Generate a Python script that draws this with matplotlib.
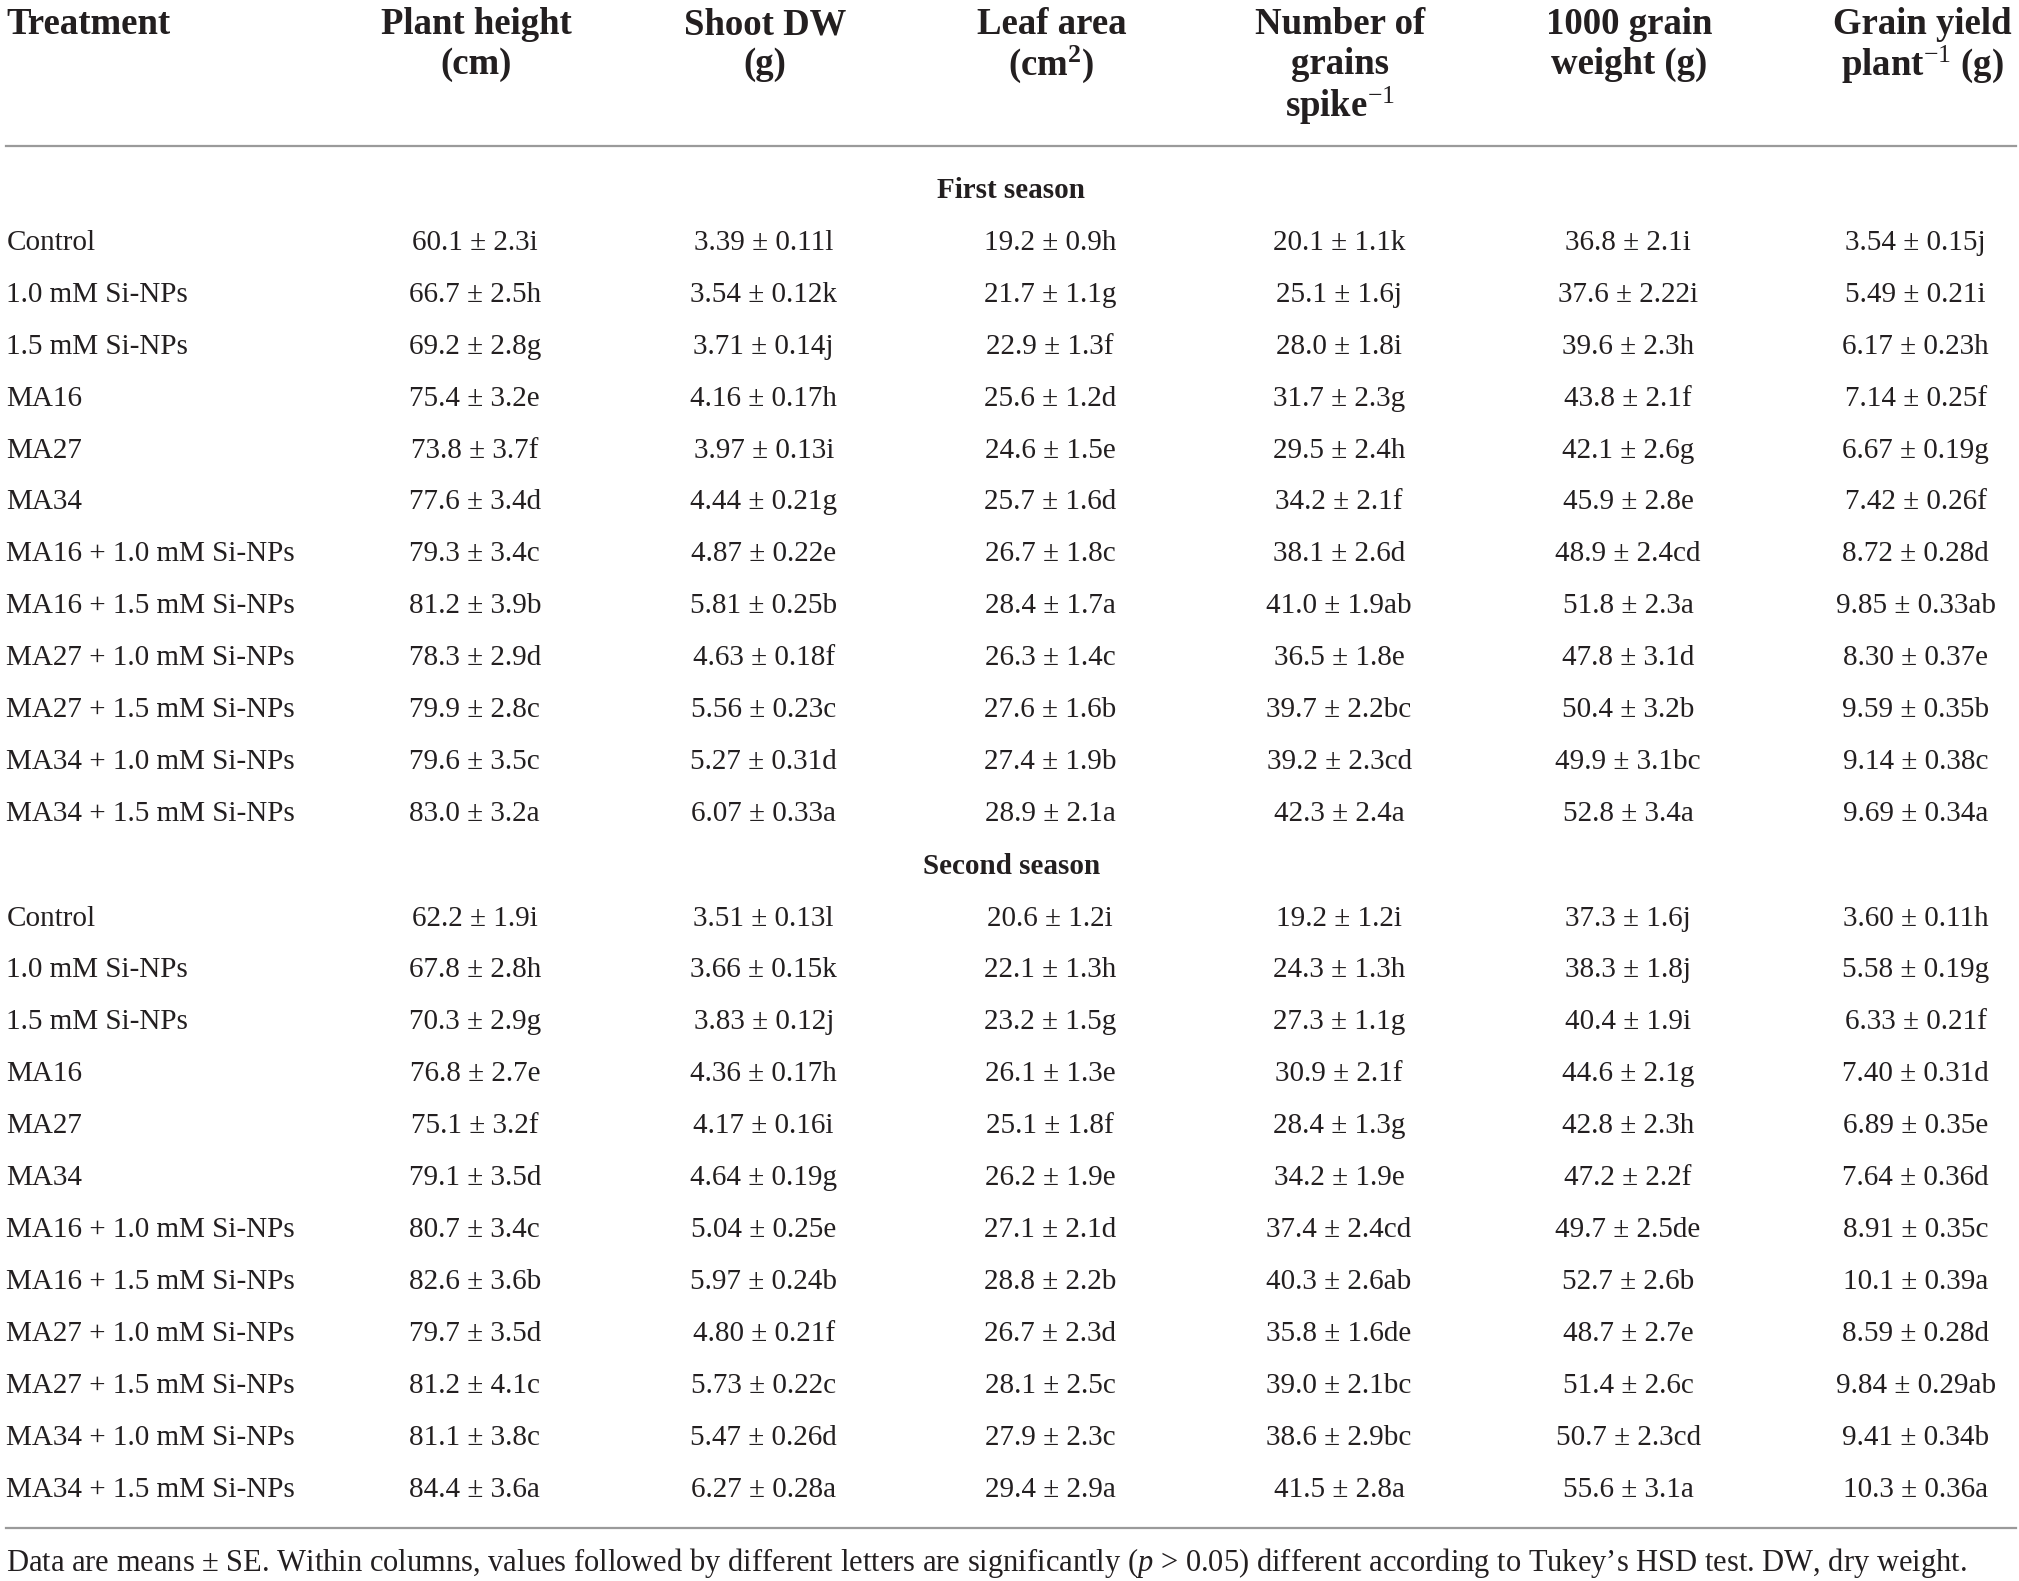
import matplotlib.pyplot as plt

plt.rcParams['font.family'] = ['Liberation Serif', 'DejaVu Serif']
plt.rcParams['mathtext.fontset'] = 'custom'
plt.rcParams['mathtext.rm'] = 'Liberation Serif'
plt.rcParams['mathtext.it'] = 'Liberation Serif:italic'
plt.rcParams['mathtext.bf'] = 'Liberation Serif:bold'

# column headers, one list of lines per column
headers = [
    ["Treatment"],
    ["Plant height", "(cm)"],
    ["Shoot DW", "(g)"],
    ["Leaf area", r"(cm$^{\mathbf{2}}$)"],
    ["Number of", "grains", r"spike$^{-1}$"],
    ["1000 grain", "weight (g)"],
    ["Grain yield", r"plant$^{-1}$ (g)"],
]

treatments = [
    "Control", "1.0 mM Si-NPs", "1.5 mM Si-NPs", "MA16", "MA27", "MA34",
    "MA16 + 1.0 mM Si-NPs", "MA16 + 1.5 mM Si-NPs", "MA27 + 1.0 mM Si-NPs",
    "MA27 + 1.5 mM Si-NPs", "MA34 + 1.0 mM Si-NPs", "MA34 + 1.5 mM Si-NPs",
]

seasons = ["First season", "Second season"]

# first season
height_s1 = ["60.1 ± 2.3i", "66.7 ± 2.5h", "69.2 ± 2.8g", "75.4 ± 3.2e", "73.8 ± 3.7f", "77.6 ± 3.4d",
             "79.3 ± 3.4c", "81.2 ± 3.9b", "78.3 ± 2.9d", "79.9 ± 2.8c", "79.6 ± 3.5c", "83.0 ± 3.2a"]
shoot_s1 = ["3.39 ± 0.11l", "3.54 ± 0.12k", "3.71 ± 0.14j", "4.16 ± 0.17h", "3.97 ± 0.13i", "4.44 ± 0.21g",
            "4.87 ± 0.22e", "5.81 ± 0.25b", "4.63 ± 0.18f", "5.56 ± 0.23c", "5.27 ± 0.31d", "6.07 ± 0.33a"]
leaf_s1 = ["19.2 ± 0.9h", "21.7 ± 1.1g", "22.9 ± 1.3f", "25.6 ± 1.2d", "24.6 ± 1.5e", "25.7 ± 1.6d",
           "26.7 ± 1.8c", "28.4 ± 1.7a", "26.3 ± 1.4c", "27.6 ± 1.6b", "27.4 ± 1.9b", "28.9 ± 2.1a"]
grains_s1 = ["20.1 ± 1.1k", "25.1 ± 1.6j", "28.0 ± 1.8i", "31.7 ± 2.3g", "29.5 ± 2.4h", "34.2 ± 2.1f",
             "38.1 ± 2.6d", "41.0 ± 1.9ab", "36.5 ± 1.8e", "39.7 ± 2.2bc", "39.2 ± 2.3cd", "42.3 ± 2.4a"]
tgw_s1 = ["36.8 ± 2.1i", "37.6 ± 2.22i", "39.6 ± 2.3h", "43.8 ± 2.1f", "42.1 ± 2.6g", "45.9 ± 2.8e",
          "48.9 ± 2.4cd", "51.8 ± 2.3a", "47.8 ± 3.1d", "50.4 ± 3.2b", "49.9 ± 3.1bc", "52.8 ± 3.4a"]
yield_s1 = ["3.54 ± 0.15j", "5.49 ± 0.21i", "6.17 ± 0.23h", "7.14 ± 0.25f", "6.67 ± 0.19g", "7.42 ± 0.26f",
            "8.72 ± 0.28d", "9.85 ± 0.33ab", "8.30 ± 0.37e", "9.59 ± 0.35b", "9.14 ± 0.38c", "9.69 ± 0.34a"]

# second season
height_s2 = ["62.2 ± 1.9i", "67.8 ± 2.8h", "70.3 ± 2.9g", "76.8 ± 2.7e", "75.1 ± 3.2f", "79.1 ± 3.5d",
             "80.7 ± 3.4c", "82.6 ± 3.6b", "79.7 ± 3.5d", "81.2 ± 4.1c", "81.1 ± 3.8c", "84.4 ± 3.6a"]
shoot_s2 = ["3.51 ± 0.13l", "3.66 ± 0.15k", "3.83 ± 0.12j", "4.36 ± 0.17h", "4.17 ± 0.16i", "4.64 ± 0.19g",
            "5.04 ± 0.25e", "5.97 ± 0.24b", "4.80 ± 0.21f", "5.73 ± 0.22c", "5.47 ± 0.26d", "6.27 ± 0.28a"]
leaf_s2 = ["20.6 ± 1.2i", "22.1 ± 1.3h", "23.2 ± 1.5g", "26.1 ± 1.3e", "25.1 ± 1.8f", "26.2 ± 1.9e",
           "27.1 ± 2.1d", "28.8 ± 2.2b", "26.7 ± 2.3d", "28.1 ± 2.5c", "27.9 ± 2.3c", "29.4 ± 2.9a"]
grains_s2 = ["19.2 ± 1.2i", "24.3 ± 1.3h", "27.3 ± 1.1g", "30.9 ± 2.1f", "28.4 ± 1.3g", "34.2 ± 1.9e",
             "37.4 ± 2.4cd", "40.3 ± 2.6ab", "35.8 ± 1.6de", "39.0 ± 2.1bc", "38.6 ± 2.9bc", "41.5 ± 2.8a"]
tgw_s2 = ["37.3 ± 1.6j", "38.3 ± 1.8j", "40.4 ± 1.9i", "44.6 ± 2.1g", "42.8 ± 2.3h", "47.2 ± 2.2f",
          "49.7 ± 2.5de", "52.7 ± 2.6b", "48.7 ± 2.7e", "51.4 ± 2.6c", "50.7 ± 2.3cd", "55.6 ± 3.1a"]
yield_s2 = ["3.60 ± 0.11h", "5.58 ± 0.19g", "6.33 ± 0.21f", "7.40 ± 0.31d", "6.89 ± 0.35e", "7.64 ± 0.36d",
            "8.91 ± 0.35c", "10.1 ± 0.39a", "8.59 ± 0.28d", "9.84 ± 0.29ab", "9.41 ± 0.34b", "10.3 ± 0.36a"]

season_cols = [
    [height_s1, shoot_s1, leaf_s1, grains_s1, tgw_s1, yield_s1],
    [height_s2, shoot_s2, leaf_s2, grains_s2, tgw_s2, yield_s2],
]

footnote = ("Data are means ± SE. Within columns, values followed by different letters are significantly "
            "($p$ > 0.05) different according to Tukey’s HSD test. DW, dry weight.")

# layout (in a 1565 x 1226 canvas, y down)
W, H = 1565, 1226
col_x = [5, 368, 592, 814, 1038, 1262, 1485]
head_x = [5, 369, 593, 815, 1039, 1263, 1490]
head_y = [19, 50, 82]
rule_top = 113
rule_bottom = 1185
row_h = 40.27
season_y = [148, 672]
text_color = "#231f20"
rule_color = "#9a9a9a"

fig = plt.figure(figsize=(20.19, 15.81), dpi=100)
ax = fig.add_axes([0, 0, 1, 1])
ax.set_xlim(0, W)
ax.set_ylim(H, 0)
ax.axis("off")

for i, lines in enumerate(headers):
    ha = "left" if i == 0 else "center"
    for j, line in enumerate(lines):
        ax.text(head_x[i], head_y[j], line, ha=ha, va="center", fontsize=26.5,
                fontweight="bold", color=text_color)

ax.plot([5, 1563], [rule_top, rule_top], color=rule_color, lw=1.6)
ax.plot([5, 1563], [rule_bottom, rule_bottom], color=rule_color, lw=1.6)

for s, name in enumerate(seasons):
    y0 = season_y[s]
    ax.text(784, y0, name, ha="center", va="center", fontsize=21,
            fontweight="bold", color=text_color)
    for r, treat in enumerate(treatments):
        y = y0 + row_h * (r + 1)
        ax.text(col_x[0], y, treat, ha="left", va="center", fontsize=21, color=text_color)
        for c, col in enumerate(season_cols[s]):
            ax.text(col_x[c + 1], y, col[r], ha="center", va="center", fontsize=21, color=text_color)

ax.text(5, 1212, footnote, ha="left", va="center", fontsize=22, color=text_color)

fig.savefig("out.png", dpi=100)
